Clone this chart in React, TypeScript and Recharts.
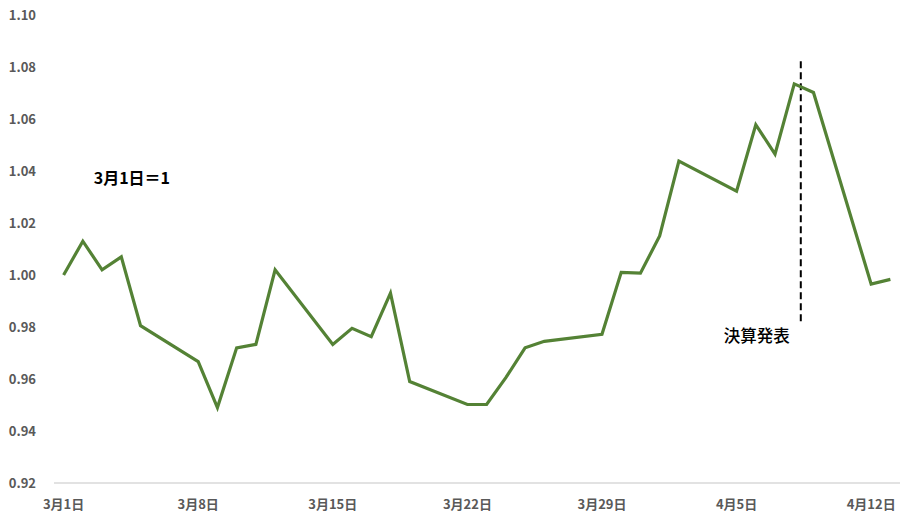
import React from "react";
import { LineChart, Line, XAxis, YAxis, ReferenceLine, ReferenceDot } from "recharts";

const dates = [
  "3/1", "3/2", "3/3", "3/4", "3/5",
  "3/8", "3/9", "3/10", "3/11", "3/12",
  "3/15", "3/16", "3/17", "3/18", "3/19",
  "3/22", "3/23", "3/24", "3/25", "3/26",
  "3/29", "3/30", "3/31", "4/1", "4/2",
  "4/5", "4/6", "4/7", "4/8", "4/9",
  "4/12", "4/13",
];
const values = [
  1.0, 1.013, 1.002, 1.007, 0.9805,
  0.9667, 0.949, 0.972, 0.9733, 1.002,
  0.9733, 0.9795, 0.9763, 0.993, 0.959,
  0.9502, 0.9502, 0.9605, 0.972, 0.9745,
  0.9772, 1.001, 1.0007, 1.015, 1.0438,
  1.0322, 1.0578, 1.0465, 1.0735, 1.0702,
  0.9965, 0.9983,
];
const tickDates = ["3/1", "3/8", "3/15", "3/22", "3/29", "4/5", "4/12"];
const tickLabels = ["3月1日", "3月8日", "3月15日", "3月22日", "3月29日", "4月5日", "4月12日"];
const yTicks = [0.92, 0.94, 0.96, 0.98, 1.0, 1.02, 1.04, 1.06, 1.08, 1.1];

const eventDay = 38.34;
const baseLabel = "3月1日＝1";
const eventLabel = "決算発表";

function dayOffset(md: string): number {
  const [m, d] = md.split("/").map(Number);
  return (Date.UTC(2021, m - 1, d) - Date.UTC(2021, 2, 1)) / 86400000;
}

const data = dates.map((d, i) => ({ day: dayOffset(d), v: values[i] }));
const xTicks = tickDates.map(dayOffset);

const FONT = "'Noto Sans CJK JP', 'Noto Sans', sans-serif";

export default function App() {
  return (
    <div style={{ width: 915, height: 525 }}>
      <style>{`body{margin:0;background:#fff}`}</style>
      <LineChart
        width={915}
        height={525}
        data={data}
        margin={{ top: 15, right: 15, bottom: 0, left: 0 }}
        style={{ fontFamily: FONT }}
      >
        <XAxis
          dataKey="day"
          type="number"
          domain={[-0.5, 43.5]}
          ticks={xTicks}
          tickFormatter={(v: number) => tickLabels[xTicks.indexOf(v)] ?? ""}
          axisLine={{ stroke: "#d9d9d9", strokeWidth: 1.3 }}
          tickLine={false}
          height={42}
          tickMargin={11}
          tick={{ fill: "#595959", fontSize: 13, fontWeight: "bold", fontFamily: FONT }}
          interval={0}
        />
        <YAxis
          type="number"
          domain={[0.92, 1.1]}
          ticks={yTicks}
          tickFormatter={(v: number) => v.toFixed(2)}
          axisLine={false}
          tickLine={false}
          width={54}
          tickMargin={12}
          tick={{ fill: "#595959", fontSize: 13, fontWeight: "bold", fontFamily: FONT }}
          interval={0}
        />
        <ReferenceLine
          segment={[
            { x: eventDay, y: 1.0822 },
            { x: eventDay, y: 0.9815 },
          ]}
          stroke="#000"
          strokeWidth={2}
          strokeDasharray="7 4"
        />
        <Line
          type="linear"
          dataKey="v"
          stroke="#548235"
          strokeWidth={3.2}
          dot={false}
          activeDot={false}
          isAnimationActive={false}
        />
        <ReferenceDot
          x={3.55}
          y={1.0373}
          r={0}
          stroke="none"
          fill="none"
          label={{ value: baseLabel, position: "center", fill: "#000", fontSize: 16, fontWeight: "bold", fontFamily: FONT }}
        />
        <ReferenceDot
          x={36.05}
          y={0.9765}
          r={0}
          stroke="none"
          fill="none"
          label={{ value: eventLabel, position: "center", fill: "#000", fontSize: 16.5, fontWeight: 500, fontFamily: FONT }}
        />
      </LineChart>
    </div>
  );
}
